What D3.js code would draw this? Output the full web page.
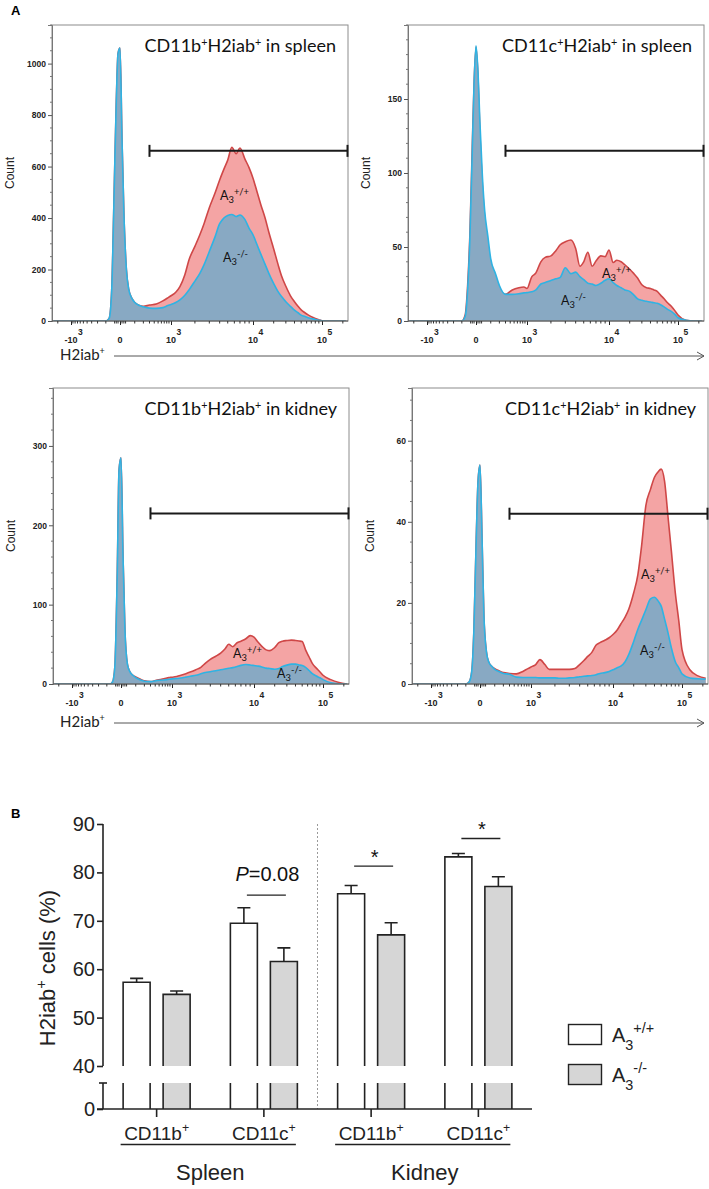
<!DOCTYPE html>
<html><head><meta charset="utf-8">
<script src="https://cdn.jsdelivr.net/npm/d3@7"></script>
<style>body{margin:0;background:#fff}svg{display:block}</style>
</head><body>
<svg id="c" width="709" height="1189"></svg>
<script>
// ---------- DATA ----------
const intensity = [-2500,-1000,-500,-300,-150,-100,-70,-50,-35,-20,-10,
 0,10,20,35,50,75,100,150,200,300,450,650,850,
 1000,1150,1300,1500,1700,2000,2300,2600,3000,3500,4000,4500,5000,5600,6300,7000,8000,9000,10000,
 11500,13000,15000,17000,20000,23000,26000,30000,35000,40000,45000,50000,56000,63000,70000,80000,90000,100000,
 130000,170000,220000];

const spleenCD11bWT = [0,0,0,0,0,0,10,120,450,850,1040,
 1060,700,420,200,125,88,72,60,57,62,66,78,90,
 98,112,134,180,240,290,335,380,440,495,548,590,625,675,650,672,630,595,555,
 500,452,400,345,280,222,175,135,98,75,57,43,33,24,17,10,5,1,
 0,0,0];
const spleenCD11bKO = [0,0,0,0,0,0,10,120,450,850,1040,
 1060,700,420,200,125,88,72,60,55,50,49,52,60,
 64,72,82,100,122,155,185,220,270,325,378,400,410,414,406,412,395,360,335,
 295,260,220,185,145,115,95,75,57,42,32,23,18,13,10,6,3,1,
 0,0,0];
const spleenCD11cWT = [0,0,0,0,0,0,4,25,58,118,160,
 185,165,128,92,70,50,40,28,22,18,21,22.5,23,
 22,29.8,32.5,40,43,44,47.5,51.5,53.5,54.7,49,37,40,46.5,37,40.5,44,43.5,48,
 39.5,41,40,38,35,32,29,24.5,22.5,22,21,20,17.5,15,12.5,10,7,4,
 0.5,0,0];
const spleenCD11cKO = [0,0,0,0,0,0,3,22,55,115,160,
 186,168,135,98,75,57,42,32,24,18,18,18.4,19,
 19.2,19.7,21,25,26,27.4,28.5,29.5,36,32,33,30,28,25.5,25,24,25.5,27.5,28.5,
 26,24,22.5,21,20,17.5,15,14,13.3,12.8,12.3,12,11,9.5,8,6.5,4.5,2.2,
 0.5,0,0];
const kidneyCD11bWT = [0,0,0,0,0,0,0,3,22,140,270,
 285,160,70,25,16,11,9,6,4,3,5,6.5,8,
 8.5,9.5,11,13,15,18,21,26,31,35,39,44,50,47,52,54,57,61,59,
 52.5,47.5,43,42,46,52,54,54.8,55.3,54.8,54.2,53.5,43,34,26,20,15.5,11,
 5.5,2,0];
const kidneyCD11bKO = [0,0,0,0,0,0,0,3,22,140,270,
 285,160,70,25,16,11,8,5,3.5,3,4.5,5,6,
 6.5,7,7.6,8.7,9.8,11,12.8,14.5,15.5,16.7,18,19,19.8,20.6,22,23.5,24.5,24,23.3,
 22.5,21.5,20,19.5,18.6,19.5,22,23.8,25,25,24,23.2,21,17,13,10,7.8,5.5,
 1.5,0.3,0];
const kidneyCD11cWT = [0,0,0,0,0,0,0.5,3,13,36,50,
 54,36,17,8,5.5,4.3,3.8,3.2,2.8,2.6,2.5,3.1,3.8,
 4.2,4.8,6,4.8,3.6,3.6,3.6,3.6,3.6,3.8,4.8,5.8,6.8,7.8,9.6,10.2,10.8,11.4,12.2,
 13.3,14.8,16.5,18.5,22.5,27,34,44,48,51,52.3,53,50,41,33,22.5,15.5,8.5,
 3.5,2,1.4];
const kidneyCD11cKO = [0,0,0,0,0,0,0.5,3,13,36,50,
 54,36,17,8,5.5,4.3,3.6,3,2.6,2.4,1.7,1.6,1.6,
 1.6,1.6,1.5,1.5,1.5,1.5,1.4,1.4,1.5,1.6,1.8,1.9,2,2.1,2.3,2.6,2.8,3.1,3.5,
 4,4.4,5.5,7.3,10.5,13.5,15.7,18.3,21,21.4,20.5,19.2,16,12.5,9,5.5,4,2.5,
 1.5,1.3,1.2];

const histTitles = [["CD11b","H2iab","spleen"],["CD11c","H2iab","spleen"],["CD11b","H2iab","kidney"],["CD11c","H2iab","kidney"]];
const histYMax = [1150, 200, 373, 73];
const histYTicks = [[0,200,400,600,800,1000],[0,50,100,150],[0,100,200,300],[0,20,40,60]];
const histYMinorStep = [50, 10, 20, 5];
const xTickValues = [-1000, 0, 1000, 10000, 100000];
const xTickBase = ["-10","0","10","10","10"];
const xTickExp = ["3","","3","4","5"];
const xMinorValues = [-2000,-900,-800,-700,-600,-500,-400,-300,-200,-100,-30,-20,-10,10,20,30,
 100,200,300,400,500,600,700,800,900,2000,3000,4000,5000,6000,7000,8000,9000,
 20000,30000,40000,50000,60000,70000,80000,90000,200000];
const gateRange = [300, 240000];
const gateCount = [661, 115, 215, 42];

const barGroups = ["Spleen CD11b","Spleen CD11c","Kidney CD11b","Kidney CD11c"];
const barCategory = ["CD11b","CD11c","CD11b","CD11c"];
const tissues = ["Spleen","Kidney"];
const wtMean = [57.3, 69.5, 75.6, 83.2];
const wtSEM  = [0.8, 3.2, 1.7, 0.7];
const koMean = [54.8, 61.6, 67.1, 77.1];
const koSEM  = [0.7, 2.8, 2.5, 2.0];
const barYTicks = [40,50,60,70,80,90];
const sigGroup = [1, 2, 3];
const sigLevel = [75.3, 81.3, 87.0];
const sigText = ["P=0.08", "*", "*"];
const genotypes = ["+/+", "-/-"];

// ---------- HELPERS ----------
const svg = d3.select('#c');
const AR = "'Liberation Sans', Arial, Helvetica, sans-serif";
const CAL = "Lato, 'Open Sans', sans-serif";
const RED_FILL = "#f4a4a4", RED_LINE = "#cf4747", BLUE_FILL = "#88a9c3", BLUE_LINE = "#2fb3e3";

function rich(t, parts, fs, o = {}) {
  const ss = o.ss || 0.68, up = o.up != null ? o.up : -0.4 * fs, dn = o.dn != null ? o.dn : 0.3 * fs;
  let cur = 0;
  parts.forEach(([s, k]) => {
    const tgt = k === 'sup' ? up : k === 'sub' ? dn : 0;
    const ts = t.append('tspan').attr('dy', tgt - cur).attr('font-size', k === 'n' || k === 'i' ? fs : fs * ss).text(s);
    if (k === 'i') ts.attr('font-style', 'italic');
    cur = tgt;
  });
  return t;
}

// ---------- PANEL A ----------
svg.append('text').attr('x', 11).attr('y', 15).attr('font-family', AR).attr('font-weight', 'bold').attr('font-size', 13).text('A');

const panels = [
  {left: 52, top: 25, wt: spleenCD11bWT, ko: spleenCD11bKO, lw: [168, 175], lk: [171, 237]},
  {left: 408, top: 25, wt: spleenCD11cWT, ko: spleenCD11cKO, lw: [194, 253], lk: [153, 280]},
  {left: 53, top: 388, wt: kidneyCD11bWT, ko: kidneyCD11bKO, lw: [180, 270], lk: [224, 290]},
  {left: 412, top: 388, wt: kidneyCD11cWT, ko: kidneyCD11cKO, lw: [229, 191], lk: [228, 267]},
];
const W = 296, H = 296;

panels.forEach((p, i) => {
  const g = svg.append('g').attr('transform', `translate(${p.left},${p.top})`);
  const x = d3.scaleSymlog().constant(100).domain(xTickValues).range([19, 68, 119, 201, 270]);
  const y = d3.scaleLinear().domain([0, histYMax[i]]).range([H, 0]);
  const cid = 'clip' + i;
  g.append('clipPath').attr('id', cid).append('rect').attr('width', W).attr('height', H);
  const pts = k => intensity.map((v, j) => [v, k[j]]);
  const area = d3.area().x(d => x(d[0])).y0(H).y1(d => y(d[1])).curve(d3.curveMonotoneX);
  const line = d3.line().x(d => x(d[0])).y(d => y(d[1])).curve(d3.curveMonotoneX);
  const cg = g.append('g').attr('clip-path', `url(#${cid})`);
  cg.append('path').attr('d', area(pts(p.wt))).attr('fill', RED_FILL);
  cg.append('path').attr('d', line(pts(p.wt))).attr('fill', 'none').attr('stroke', RED_LINE).attr('stroke-width', 1.6);
  cg.append('path').attr('d', area(pts(p.ko))).attr('fill', BLUE_FILL);
  cg.append('path').attr('d', line(pts(p.ko))).attr('fill', 'none').attr('stroke', BLUE_LINE).attr('stroke-width', 1.6);

  // frame
  g.append('rect').attr('width', W).attr('height', H).attr('fill', 'none').attr('stroke', '#8c8c8c').attr('stroke-width', 1);

  // y axis
  const ya = g.append('g').call(d3.axisLeft(y).tickValues(histYTicks[i]).tickSize(4).tickPadding(2).tickFormat(d3.format('d')));
  ya.select('.domain').attr('stroke', '#777');
  ya.selectAll('.tick line').attr('stroke', '#555');
  ya.selectAll('text').attr('font-family', AR).attr('font-size', 8.5).attr('font-weight', 'bold').attr('fill', '#222');
  const minors = d3.range(0, histYMax[i] + 0.01, histYMinorStep[i]).filter(v => !histYTicks[i].includes(v));
  g.append('g').selectAll('line').data(minors).join('line')
    .attr('x1', -2).attr('x2', 0).attr('y1', d => y(d)).attr('y2', d => y(d)).attr('stroke', '#777');

  // x axis
  const xa = g.append('g').attr('transform', `translate(0,${H})`)
    .call(d3.axisBottom(x).tickValues(xTickValues).tickSize(4).tickFormat(''));
  xa.select('.domain').remove();
  xa.selectAll('.tick line').attr('stroke', '#222');
  g.append('line').attr('x1', 0).attr('x2', W).attr('y1', H).attr('y2', H).attr('stroke', '#555');
  g.append('g').selectAll('line').data(xMinorValues).join('line')
    .attr('x1', d => x(d)).attr('x2', d => x(d)).attr('y1', H).attr('y2', H + 2.5).attr('stroke', '#333');
  xTickValues.forEach((v, j) => {
    const bt = g.append('text').attr('x', x(v)).attr('y', H + 22).attr('text-anchor', 'middle')
      .attr('font-family', AR).attr('font-weight', 'bold').attr('font-size', 9).attr('fill', '#222').text(xTickBase[j]);
    if (xTickExp[j]) {
      const wdt = bt.node().getComputedTextLength();
      g.append('text').attr('x', x(v) + wdt / 2 + 0.5).attr('y', H + 13.5)
        .attr('font-family', AR).attr('font-weight', 'bold').attr('font-size', 8.5).attr('fill', '#222').text(xTickExp[j]);
    }
  });

  // Count label
  g.append('text').attr('transform', `translate(${-38},${H / 2}) rotate(-90)`).attr('text-anchor', 'middle')
    .attr('font-family', AR).attr('font-size', 12).attr('fill', '#222').text('Count');

  // gate
  const gy = y(gateCount[i]), gx0 = x(gateRange[0]), gx1 = Math.min(x(gateRange[1]), W - 0.5);
  const gg = g.append('g').attr('stroke', '#1a1a1a').attr('stroke-width', 2);
  gg.append('line').attr('x1', gx0).attr('x2', gx1).attr('y1', gy).attr('y2', gy);
  gg.append('line').attr('x1', gx0).attr('x2', gx0).attr('y1', gy - 6).attr('y2', gy + 6);
  gg.append('line').attr('x1', gx1).attr('x2', gx1).attr('y1', gy - 6).attr('y2', gy + 6);

  // title
  const tt = histTitles[i];
  rich(g.append('text').attr('x', W - 12).attr('y', 27).attr('text-anchor', 'end')
    .attr('font-family', CAL).attr('font-size', 18).attr('fill', '#111'),
    [[tt[0], 'n'], ['+', 'sup'], [tt[1], 'n'], ['+', 'sup'], [' in ' + tt[2], 'n']], 18, {ss: 0.6, up: -6});

  // genotype labels
  [[p.lw, genotypes[0]], [p.lk, genotypes[1]]].forEach(([pos, gt]) => {
    rich(g.append('text').attr('x', pos[0]).attr('y', pos[1]).attr('font-family', CAL).attr('font-size', 12.5).attr('fill', '#111'),
      [['A', 'n'], ['3', 'sub'], [gt, 'sup']], 12.5, {ss: 0.75, dn: 3, up: -5});
  });
});

// x-axis titles with arrows
[[0, 356, 360], [1, 723, 727]].forEach(([k, ly, ty]) => {
  rich(svg.append('text').attr('x', 60).attr('y', ty).attr('font-family', CAL).attr('font-size', 15).attr('fill', '#222'),
    [['H2iab', 'n'], ['+', 'sup']], 15, {ss: 0.6, up: -6});
  svg.append('line').attr('x1', 114).attr('x2', 704).attr('y1', ly).attr('y2', ly).attr('stroke', '#555').attr('stroke-width', 1);
  svg.append('path').attr('d', `M697,${ly - 4}L704,${ly}L697,${ly + 4}`).attr('fill', 'none').attr('stroke', '#555').attr('stroke-width', 1);
});

// ---------- PANEL B ----------
svg.append('text').attr('x', 11).attr('y', 818).attr('font-family', AR).attr('font-weight', 'bold').attr('font-size', 13).text('B');

const yU = d3.scaleLinear().domain([40, 90]).range([1066, 824]);
const yL = d3.scaleLinear().domain([0, 10]).range([1109, 1083]);
const x0 = d3.scaleBand().domain(barGroups).range([103, 532]);
const x1 = d3.scaleBand().domain(['WT', 'KO']).range([0, 67]).paddingInner(0.325);
const gc = d => x0(d) + x0.bandwidth() / 2;
const bx = (grp, s) => gc(grp) - 33.5 + x1(s);
const bw = x1.bandwidth();
const INK = '#222', GREY = '#d6d6d6';
const bg = svg.append('g');

// separator
bg.append('line').attr('x1', x0(barGroups[2])).attr('x2', x0(barGroups[2])).attr('y1', yU(90)).attr('y2', yL(0))
  .attr('stroke', '#9a9a9a').attr('stroke-width', 1).attr('stroke-dasharray', '2,2');

const series = [{k: 'WT', m: wtMean, e: wtSEM, fill: '#fff'}, {k: 'KO', m: koMean, e: koSEM, fill: GREY}];
series.forEach(s => {
  barGroups.forEach((grp, j) => {
    const xl = bx(grp, s.k), xr = xl + bw, top = yU(s.m[j]);
    bg.append('rect').attr('x', xl).attr('y', yL(10)).attr('width', bw).attr('height', yL(0) - yL(10)).attr('fill', s.fill);
    bg.append('path').attr('d', `M${xl},${yL(0)}V${yL(10)}M${xr},${yL(0)}V${yL(10)}`).attr('stroke', INK).attr('stroke-width', 1.6).attr('fill', 'none');
    bg.append('rect').attr('x', xl).attr('y', top).attr('width', bw).attr('height', yU(40) - top).attr('fill', s.fill);
    bg.append('path').attr('d', `M${xl},${yU(40)}V${top}H${xr}V${yU(40)}`).attr('stroke', INK).attr('stroke-width', 1.6).attr('fill', 'none');
    const cx = xl + bw / 2, et = yU(s.m[j] + s.e[j]);
    bg.append('path').attr('d', `M${cx},${top}V${et}M${cx - 6.5},${et}H${cx + 6.5}`).attr('stroke', INK).attr('stroke-width', 1.6).attr('fill', 'none');
  });
});

// y axes
const yaU = bg.append('g').attr('transform', 'translate(103,0)').call(d3.axisLeft(yU).tickValues(barYTicks).tickSize(6).tickPadding(2));
const yaL = bg.append('g').attr('transform', 'translate(103,0)').call(d3.axisLeft(yL).tickValues([0]).tickSize(6).tickPadding(2));
[yaU, yaL].forEach(a => {
  a.select('.domain').attr('stroke', INK).attr('stroke-width', 1.6);
  a.selectAll('.tick line').attr('stroke', INK).attr('stroke-width', 1.6);
  a.selectAll('text').attr('font-family', AR).attr('font-size', 20).attr('fill', '#222');
});
yaL.select('.domain').attr('d', `M0,${yL(10)}V${yL(0)}`);
yaU.select('.domain').attr('d', `M0,${yU(40)}V${yU(90)}`);
bg.append('line').attr('x1', 99).attr('x2', 107).attr('y1', yL(10)).attr('y2', yL(10)).attr('stroke', INK).attr('stroke-width', 1.6);

// x axis
bg.append('line').attr('x1', 97).attr('x2', 532).attr('y1', yL(0)).attr('y2', yL(0)).attr('stroke', INK).attr('stroke-width', 1.6);
const xa = bg.append('g').attr('transform', `translate(0,${yL(0)})`).call(d3.axisBottom(x0).tickSize(8).tickFormat(''));
xa.select('.domain').remove();
xa.selectAll('.tick line').attr('stroke', INK).attr('stroke-width', 1.6);

barGroups.forEach((grp, j) => {
  rich(bg.append('text').attr('x', gc(grp)).attr('y', 1140).attr('text-anchor', 'middle').attr('font-family', AR).attr('font-size', 19).attr('fill', '#222'),
    [[barCategory[j], 'n'], ['+', 'sup']], 19, {ss: 0.65, up: -8});
});
tissues.forEach((t, k) => {
  const a = gc(barGroups[2 * k]) - 36, b = gc(barGroups[2 * k + 1]) + 32;
  bg.append('line').attr('x1', a).attr('x2', b).attr('y1', 1144.5).attr('y2', 1144.5).attr('stroke', INK).attr('stroke-width', 1.4);
  bg.append('text').attr('x', (gc(barGroups[2 * k]) + gc(barGroups[2 * k + 1])) / 2).attr('y', 1180).attr('text-anchor', 'middle')
    .attr('font-family', AR).attr('font-size', 22).attr('fill', '#222').text(t);
});

// y label
rich(bg.append('text').attr('transform', 'translate(55,968) rotate(-90)').attr('text-anchor', 'middle').attr('font-family', AR).attr('font-size', 22).attr('fill', '#222'),
  [['H2iab', 'n'], ['+', 'sup'], [' cells (%)', 'n']], 22, {ss: 0.65, up: -9});

// significance
sigGroup.forEach((gi, k) => {
  const grp = barGroups[gi];
  const a = bx(grp, 'WT') + bw / 2 + 3, b = bx(grp, 'KO') + bw / 2 + 2, ly = yU(sigLevel[k]);
  bg.append('line').attr('x1', a).attr('x2', b).attr('y1', ly).attr('y2', ly).attr('stroke', INK).attr('stroke-width', 1.4);
  const t = bg.append('text').attr('x', (a + b) / 2 + 1).attr('text-anchor', 'middle').attr('font-family', AR).attr('font-size', 20).attr('fill', '#111');
  if (sigText[k].startsWith('P')) {
    t.attr('y', ly - 14.5);
    rich(t, [['P', 'i'], [sigText[k].slice(1), 'n']], 20);
  } else {
    t.attr('y', ly - 2.5).text(sigText[k]);
  }
});

// legend
series.forEach((s, k) => {
  const ly = 1024.5 + k * 40;
  bg.append('rect').attr('x', 568.5).attr('y', ly).attr('width', 33).attr('height', 20).attr('fill', s.fill).attr('stroke', INK).attr('stroke-width', 1.4);
  rich(bg.append('text').attr('x', 612).attr('y', ly + 17).attr('font-family', AR).attr('font-size', 20).attr('fill', '#222'),
    [['A', 'n'], ['3', 'sub'], [genotypes[k], 'sup']], 20, {ss: 0.72, dn: 8, up: -9});
});
</script>
</body></html>
